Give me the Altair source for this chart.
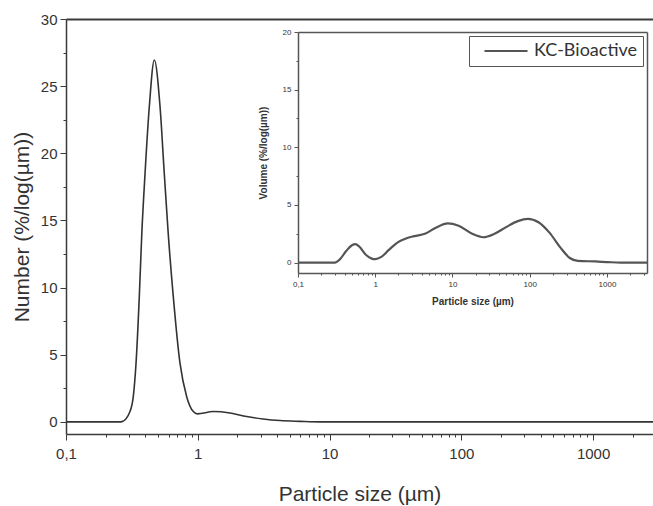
import altair as alt
import pandas as pd

# ---- main curve: Number distribution ----
main_size = [0.1, 0.2, 0.255, 0.266, 0.306, 0.324, 0.340, 0.360, 0.376, 0.398, 0.429,
             0.468, 0.517, 0.557, 0.597, 0.652, 0.733, 0.824, 0.925, 0.995, 1.31,
             1.76, 2.35, 3.13, 4.21, 6.0, 8.5, 100, 2850]
main_number = [0, 0, 0, 0.02, 0.77, 1.88, 4.37, 9.33, 14.0, 18.5, 23.5,
               26.95, 23.5, 18.5, 14.0, 9.33, 4.37, 1.88, 0.77, 0.6, 0.77,
               0.66, 0.4, 0.22, 0.1, 0.04, 0, 0, 0]

# ---- inset curve: Volume distribution ----
inset_size = [0.1, 0.3, 0.35, 0.42, 0.5, 0.55, 0.62, 0.75, 0.9, 1.0, 1.2, 1.5, 2.0,
              2.5, 3.2, 4.4, 6.0, 8.7, 12, 18, 25, 35, 50, 70, 95, 130, 180, 250,
              330, 420, 700, 1000, 1500, 3300]
inset_volume = [0, 0, 0.3, 1.0, 1.5, 1.6, 1.4, 0.7, 0.35, 0.3, 0.5, 1.1, 1.8,
                2.1, 2.3, 2.5, 3.0, 3.4, 3.2, 2.5, 2.2, 2.5, 3.1, 3.6, 3.8, 3.5, 2.6, 1.3,
                0.4, 0.15, 0.1, 0.05, 0, 0]
series_name = "KC-Bioactive"

decades = [0.1, 1, 10, 100, 1000]
multipliers = [1, 2, 3, 4, 5, 6, 7, 8, 9]
main_y_ticks = [0, 2.5, 5, 7.5, 10, 12.5, 15, 17.5, 20, 22.5, 25, 27.5, 30]
inset_y_ticks = [0, 2.5, 5, 7.5, 10, 12.5, 15, 17.5, 20]

main_xmax = 2850
inset_xmax = 3300
main_x_ticks = [d * m for d in decades for m in multipliers if d * m <= main_xmax]
inset_x_ticks = [d * m for d in decades for m in multipliers if d * m <= inset_xmax]

main_df = pd.DataFrame({"size": main_size, "number": main_number})
inset_df = pd.DataFrame({"size": inset_size, "volume": inset_volume,
                         "series": [series_name] * len(inset_size)})

W, H = 587, 415
FONT = "Liberation Sans"
AX = "#3a3a3a"
TXT = "#333333"

is_decade = "abs(log(datum.value)/LN10 - round(log(datum.value)/LN10)) < 0.01"
x_label_expr = f"({is_decade}) ? replace(format(datum.value, '~g'), '.', ',') : ''"
y_label_expr = "(datum.value % 5 == 0) ? format(datum.value, 'd') : ''"

main_xscale = alt.Scale(type="log", domain=[0.1, main_xmax], nice=False)
main_yscale = alt.Scale(domain=[-0.9, 30], nice=False, zero=False)

main = alt.Chart(main_df).mark_line(
    color="#333333", strokeWidth=1.6, interpolate="monotone"
).encode(
    x=alt.X("size:Q", scale=main_xscale,
            axis=alt.Axis(orient="bottom", values=main_x_ticks, labelExpr=x_label_expr,
                          tickSize={"condition": {"test": is_decade, "value": 6}, "value": 3},
                          labelOverlap=False, labelFlush=False, grid=False,
                          title="Particle size (µm)", titleFontSize=21, titleFont=FONT,
                          titleFontWeight="normal", titleColor=TXT, titlePadding=22,
                          labelFontSize=15, labelFont=FONT, labelColor=TXT, labelPadding=6,
                          domainColor=AX, tickColor=AX, domainWidth=1.5)),
    y=alt.Y("number:Q", scale=main_yscale,
            axis=alt.Axis(orient="left", values=main_y_ticks, labelExpr=y_label_expr,
                          tickSize={"condition": {"test": "datum.value % 5 == 0", "value": 6}, "value": 3},
                          labelOverlap=False, labelFlush=False, grid=False,
                          title="Number (%/log(µm))", titleFontSize=21, titleFont=FONT,
                          titleFontWeight="normal", titleColor=TXT, titlePadding=8,
                          labelFontSize=15, labelFont=FONT, labelColor=TXT, labelPadding=3,
                          domainColor=AX, tickColor=AX, domainWidth=1.5)),
)

main_border = alt.Chart(main_df).mark_line(strokeOpacity=0).encode(
    x=alt.X("size:Q", scale=main_xscale,
            axis=alt.Axis(orient="top", labels=False, ticks=False, grid=False, title=None,
                          domainColor=AX, domainWidth=2)),
    y=alt.Y("number:Q", scale=main_yscale, axis=None),
)

inset_xscale = alt.Scale(type="log", domain=[0.1, inset_xmax], range=[232, 581], nice=False)
inset_yscale = alt.Scale(domain=[-0.9, 20], range=[254, 13], nice=False, zero=False)

inset = alt.Chart(inset_df).mark_line(strokeWidth=2.2, interpolate="monotone").encode(
    x=alt.X("size:Q", scale=inset_xscale,
            axis=alt.Axis(orient="bottom", offset=-161, values=inset_x_ticks,
                          labelExpr=x_label_expr,
                          tickSize={"condition": {"test": is_decade, "value": 4}, "value": 2},
                          labelOverlap=False, labelFlush=False, grid=False,
                          title="Particle size (µm)", titleFontSize=10, titleFont=FONT,
                          titleFontWeight="bold", titleColor=TXT, titlePadding=8,
                          labelFontSize=8, labelFont=FONT, labelColor=TXT, labelPadding=3,
                          domainColor="#555555", tickColor="#555555", domainWidth=1.5)),
    y=alt.Y("volume:Q", scale=inset_yscale,
            axis=alt.Axis(orient="left", offset=-232, values=inset_y_ticks,
                          labelExpr=y_label_expr,
                          tickSize={"condition": {"test": "datum.value % 5 == 0", "value": 4}, "value": 2},
                          labelOverlap=False, labelFlush=False, grid=False,
                          title="Volume (%/log(µm))", titleFontSize=10, titleFont=FONT,
                          titleFontWeight="bold", titleColor=TXT, titlePadding=14,
                          labelFontSize=8, labelFont=FONT, labelColor=TXT, labelPadding=3,
                          domainColor="#555555", tickColor="#555555", domainWidth=1.5)),
    color=alt.Color("series:N", scale=alt.Scale(range=["#555555"]),
                    legend=alt.Legend(title=None, orient="none", legendX=403, legendY=17,
                                      symbolType="stroke", symbolSize=1849,
                                      symbolStrokeWidth=2.2, symbolOffset=9,
                                      clipHeight=20,
                                      labelFont="Lato", labelFontSize=18, labelColor=TXT,
                                      labelOffset=5, padding=5,
                                      strokeColor="#555555")),
)

inset_box = alt.Chart(inset_df).mark_line(strokeOpacity=0).encode(
    x=alt.X("size:Q", scale=inset_xscale,
            axis=alt.Axis(orient="top", offset=-13, labels=False, ticks=False, grid=False,
                          title=None, domainColor="#555555", domainWidth=1.5)),
    y=alt.Y("volume:Q", scale=inset_yscale,
            axis=alt.Axis(orient="right", offset=-6, labels=False, ticks=False, grid=False,
                          title=None, domainColor="#555555", domainWidth=1.5)),
)

chart = alt.layer(main, main_border, inset, inset_box).resolve_scale(
    x="independent", y="independent", color="independent"
).properties(
    width=W, height=H,
    autosize=alt.AutoSizeParams(type="none"),
    padding={"left": 66, "top": 19, "right": 0, "bottom": 72},
    background="white",
).configure_view(stroke=None)

chart.save("out.html", embed_options={"renderer": "svg", "actions": False})
